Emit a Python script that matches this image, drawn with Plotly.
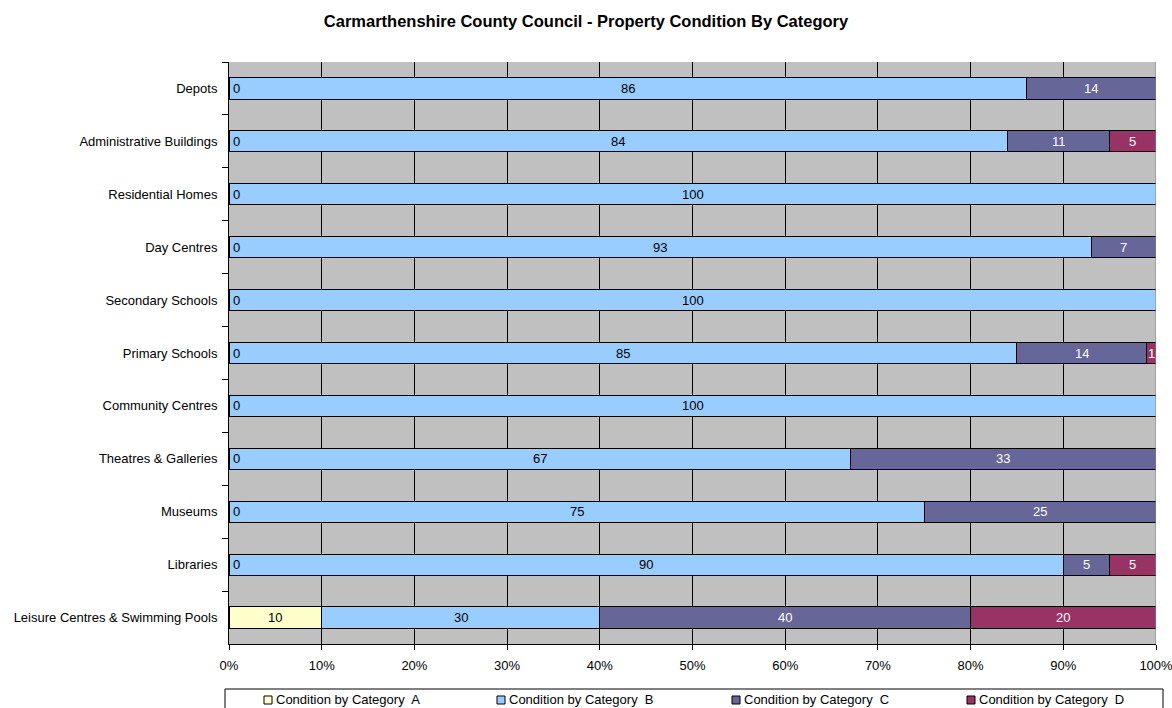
import plotly.graph_objects as go

categories = ["Depots", "Administrative Buildings", "Residential Homes", "Day Centres",
              "Secondary Schools", "Primary Schools", "Community Centres",
              "Theatres & Galleries", "Museums", "Libraries",
              "Leisure Centres & Swimming Pools"]
cat_a = [0, 0, 0, 0, 0, 0, 0, 0, 0, 0, 10]
cat_b = [86, 84, 100, 93, 100, 85, 100, 67, 75, 90, 30]
cat_c = [14, 11, 0, 7, 0, 14, 0, 33, 25, 5, 40]
cat_d = [0, 5, 0, 0, 0, 1, 0, 0, 0, 5, 20]
series_names = ["Condition by Category  A", "Condition by Category  B",
                "Condition by Category  C", "Condition by Category  D"]
x_ticks = [0, 10, 20, 30, 40, 50, 60, 70, 80, 90, 100]

colors = ["#FFFFCC", "#99CCFF", "#666699", "#993366"]
label_colors = ["black", "black", "white", "white"]
series = [cat_a, cat_b, cat_c, cat_d]

FONT = "Arial"
FS = 13

# plot area in pixels
L, R, T, B = 229, 1156, 62, 644
W, H = 1172, 708


def px_x(p):
    return (p - L) / (R - L)


def px_y(p):
    return (B - p) / (B - T)


fig = go.Figure()
for name, vals, col in zip(series_names, series, colors):
    fig.add_trace(go.Bar(
        y=categories, x=vals, name=name, orientation="h",
        marker=dict(color=col, line=dict(color="black", width=1)),
        hoverinfo="x+y+name", showlegend=False,
    ))

annotations = []
for i, cat in enumerate(categories):
    cum = 0
    for s, (vals, lc) in enumerate(zip(series, label_colors)):
        v = vals[i]
        if v == 0 and s == 0:
            annotations.append(dict(x=0, y=cat, xref="x", yref="y", text=str(v),
                                    showarrow=False, xanchor="left", xshift=2,
                                    font=dict(family=FONT, size=FS, color=lc)))
        elif v > 0:
            annotations.append(dict(x=cum + v / 2, y=cat, xref="x", yref="y", text=str(v),
                                    showarrow=False, xanchor="center",
                                    font=dict(family=FONT, size=FS, color=lc)))
        cum += v

# manual legend (box partly cut off at the bottom edge, as in the original)
shapes = [dict(type="rect", xref="paper", yref="paper",
               x0=px_x(225), x1=px_x(1163), y0=px_y(714), y1=px_y(689),
               line=dict(color="black", width=1), fillcolor="white", layer="above")]
legend_sym_x = [264, 497, 732, 967]
for name, col, sx in zip(series_names, colors, legend_sym_x):
    shapes.append(dict(type="rect", xref="paper", yref="paper",
                       x0=px_x(sx), x1=px_x(sx + 8), y0=px_y(704), y1=px_y(696),
                       line=dict(color="black", width=1), fillcolor=col, layer="above"))
    annotations.append(dict(x=px_x(sx + 10), y=px_y(699.5), xref="paper", yref="paper",
                            text=name, showarrow=False, xanchor="left", yanchor="middle",
                            font=dict(family=FONT, size=FS, color="black")))

shapes.append(dict(type="line", xref="x", yref="paper", x0=100, x1=100, y0=0, y1=1,
                   line=dict(color="#808080", width=1)))

fig.update_layout(
    barmode="stack",
    bargap=0.6,
    width=W, height=H,
    margin=dict(l=L, r=W - R, t=T, b=H - B, autoexpand=False),
    paper_bgcolor="white",
    plot_bgcolor="#C0C0C0",
    font=dict(family=FONT, size=FS, color="black"),
    title=dict(text="<b>Carmarthenshire County Council - Property Condition By Category</b>",
               x=0.5, xanchor="center", y=1 - 21 / H, yanchor="middle",
               yref="container", font=dict(family=FONT, size=16.5, color="black")),
    xaxis=dict(range=[0, 100], tickvals=x_ticks, ticktext=[f"{t}%" for t in x_ticks],
               showgrid=True, gridcolor="black", gridwidth=1,
               showline=True, linecolor="black", linewidth=1,
               ticks="outside", ticklen=5, tickcolor="black", ticklabelstandoff=4,
               ticklabeloverflow="allow", automargin=False,
               zeroline=False, fixedrange=True,
               tickfont=dict(family=FONT, size=FS, color="black")),
    yaxis=dict(autorange="reversed", categoryorder="array", categoryarray=categories,
               showgrid=False, showline=True, linecolor="black", linewidth=1,
               ticks="outside", ticklen=6, tickcolor="black", tickson="boundaries",
               ticklabelstandoff=8, automargin=False,
               tickfont=dict(family=FONT, size=FS, color="black")),
    annotations=annotations,
    shapes=shapes,
    showlegend=False,
)

fig.write_html("out.html")
